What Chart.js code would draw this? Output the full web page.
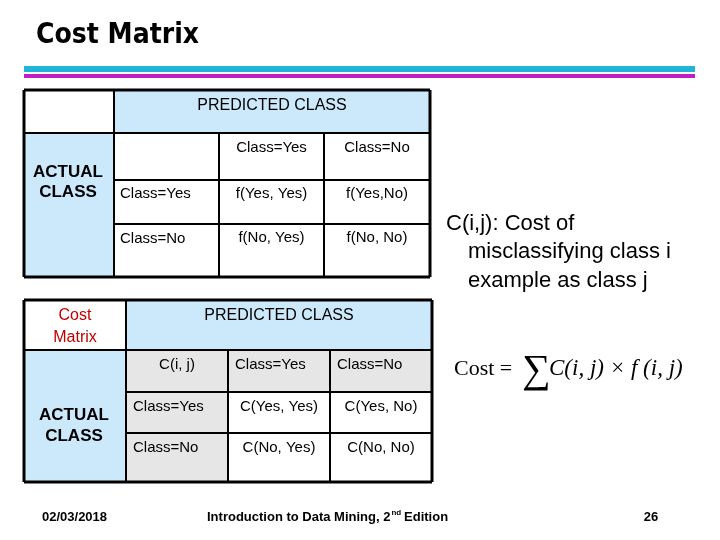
<!DOCTYPE html>
<html><head><meta charset="utf-8">
<script src="https://cdn.jsdelivr.net/npm/chart.js@4.4.0/dist/chart.umd.min.js"></script>
<style>html,body{margin:0;padding:0;background:#fff}#c{display:block}</style>
</head><body>
<div style="width:720px;height:540px"><canvas id="c" width="720" height="540"></canvas></div>
<script>
// ---- content arrays ----
const title = "Cost Matrix";
const classes = ["Class=Yes", "Class=No"];
const countCells = [["f(Yes, Yes)", "f(Yes,No)"], ["f(No, Yes)", "f(No, No)"]];
const costCells = [["C(Yes, Yes)", "C(Yes, No)"], ["C(No, Yes)", "C(No, No)"]];
const headerPredicted = "PREDICTED CLASS";
const headerActual = ["ACTUAL", "CLASS"];
const costLabel = ["Cost", "Matrix"];
const cornerLabel = "C(i, j)";
const noteLines = ["C(i,j): Cost of", "misclassifying class i", "example as class j"];
const footer = ["02/03/2018", "Introduction to Data Mining, 2", "nd", " Edition", "26"];

// ---- layout (slide units) ----
const T1 = {xs:[24,114,219,324,430], ys:[90,133,180,224,277]};
const T2 = {xs:[24,126,228,330,432], ys:[300,350,392,433,482]};
const BLUE = "#cce9fb", GRAY = "#e6e6e6";
const SANS = "Arial, 'Liberation Sans', sans-serif";
const SERIF = "'Times New Roman', 'Liberation Serif', serif";

const slidePlugin = {
  id: 'slide',
  afterDraw(chart) {
    const ctx = chart.ctx, sx = chart.scales.x, sy = chart.scales.y;
    const X = v => sx.getPixelForValue(v), Y = v => sy.getPixelForValue(v);
    const rect = (x0,y0,x1,y1,fill) => { ctx.fillStyle = fill; ctx.fillRect(X(x0),Y(y0),X(x1)-X(x0),Y(y1)-Y(y0)); };
    const line = (x0,y0,x1,y1,w) => { ctx.strokeStyle="#000"; ctx.lineWidth=w; ctx.beginPath(); ctx.moveTo(X(x0),Y(y0)); ctx.lineTo(X(x1),Y(y1)); ctx.stroke(); };
    const text = (s,x,y,font,color,align) => { ctx.font=font; ctx.fillStyle=color||"#000"; ctx.textAlign=align||"center"; ctx.textBaseline="alphabetic"; ctx.fillText(s,X(x),Y(y)); };
    ctx.save();
    text(title, 36, 43, "bold 28px 'DejaVu Sans Condensed', 'DejaVu Sans'", "#000", "left");
    rect(24,66,695,72,"#22b4d6");
    rect(24,74,695,78,"#c01fc0");

    function table(T, opts) {
      const [a,b,c,d,e] = T.xs, [p,q,r,s,t] = T.ys;
      rect(b,p,e,q,BLUE);
      rect(a,q,b,t,BLUE);
      if (opts.gray) { rect(b,q,e,r,GRAY); rect(b,r,c,t,GRAY); }
      line(a,p,e,p,3); line(a,t,e,t,3); line(a,p,a,t,3); line(e,p,e,t,3);
      line(a,q,e,q,2); line(b,p,b,t,2);
      line(c,q,c,t,2); line(d,q,d,t,2);
      line(b,r,e,r,2); line(b,s,e,s,2);
      text(headerPredicted,(b+e)/2,p+20,"16px " + SANS);
    }
    table(T1,{gray:false});
    table(T2,{gray:true});
    const F = "15px " + SANS;
    let [a,b,c,d,e] = T1.xs, [p,q,r,s,t] = T1.ys;
    text(classes[0],(c+d)/2,q+19,F); text(classes[1],(d+e)/2,q+19,F);
    text(classes[0],b+6,r+18,F,"#000","left"); text(classes[1],b+6,s+19,F,"#000","left");
    for (let i=0;i<2;i++) for (let j=0;j<2;j++)
      text(countCells[i][j],[(c+d)/2,(d+e)/2][j],[r,s][i]+18,F);
    text(headerActual[0],68,177,"bold 17px " + SANS);
    text(headerActual[1],68,197,"bold 17px " + SANS);
    [a,b,c,d,e] = T2.xs; [p,q,r,s,t] = T2.ys;
    text(costLabel[0],(a+b)/2,320,"16px " + SANS,"#c00000");
    text(costLabel[1],(a+b)/2,342,"16px " + SANS,"#c00000");
    text(cornerLabel,(b+c)/2,q+19,F);
    text(classes[0],c+7,q+19,F,"#000","left"); text(classes[1],d+7,q+19,F,"#000","left");
    text(classes[0],b+7,r+19,F,"#000","left"); text(classes[1],b+7,s+19,F,"#000","left");
    for (let i=0;i<2;i++) for (let j=0;j<2;j++)
      text(costCells[i][j],[(c+d)/2,(d+e)/2][j],[r,s][i]+19,F);
    text(headerActual[0],74,420,"bold 17px " + SANS);
    text(headerActual[1],74,441,"bold 17px " + SANS);
    text(noteLines[0],446,230,"22px " + SANS,"#000","left");
    text(noteLines[1],468,258,"22px " + SANS,"#000","left");
    text(noteLines[2],468,287,"22px " + SANS,"#000","left");
    text("Cost =",454,375,"22px " + SERIF,"#000","left");
    text("\u2211",522,382,"40px " + SERIF,"#000","left");
    text("C(i, j) \u00d7 f (i, j)",549,375,"italic 23px " + SERIF,"#000","left");
    const FF = "bold 13px " + SANS;
    text(footer[0],42,521,FF,"#000","left");
    ctx.font = FF; const w1 = ctx.measureText(footer[1]).width;
    text(footer[1],207,521,FF,"#000","left");
    text(footer[2],207+w1+1,515,"bold 8px " + SANS,"#000","left");
    text(footer[3],207+w1+10,521,FF,"#000","left");
    text(footer[4],651,521,FF,"#000","center");
    ctx.restore();
  }
};

new Chart(document.getElementById('c'), {
  type: 'scatter',
  data: { datasets: [{ data: [], pointRadius: 0 }] },
  options: {
    responsive: false, animation: false, devicePixelRatio: 1,
    layout: { padding: 0 },
    plugins: { legend: { display: false }, tooltip: { enabled: false } },
    scales: {
      x: { type: 'linear', min: 0, max: 720, display: false },
      y: { type: 'linear', min: 0, max: 540, reverse: true, display: false }
    }
  },
  plugins: [slidePlugin]
});
</script>
</body></html>
